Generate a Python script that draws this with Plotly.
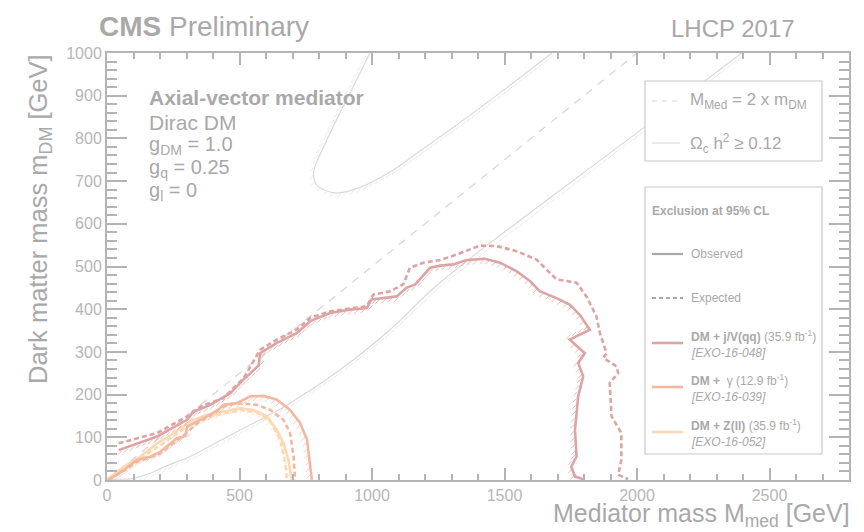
import numpy as np
import plotly.graph_objects as go

# ---- values (GeV) ----
diag_mmed = [0, 2000]
diag_mdm = [0, 1000]

relic_lo_mmed = [0, 100, 160, 220, 314, 405, 503, 691, 880, 1068, 1256, 2029, 2395]
relic_lo_mdm = [2, 4, 15, 32, 55, 85, 117, 180, 258, 352, 462, 827, 1000]

relic_hi_mmed = [992, 920, 853, 810, 785, 779, 790, 820, 867, 950, 1080, 1180, 1294, 1400, 1482, 1679]
relic_hi_mdm = [1000, 910, 827, 770, 735, 715, 692, 679, 672, 684, 726, 770, 820, 868, 906, 1000]

qq_obs_mmed = [44, 189, 302, 327, 390, 465, 515, 572, 578, 641, 716, 767, 842, 917, 980, 999,
               1093, 1130, 1163, 1219, 1257, 1307, 1357, 1426, 1483, 1545, 1596, 1633, 1696,
               1746, 1784, 1822, 1746, 1803, 1778, 1797, 1778, 1766, 1772, 1752, 1766, 1797]
qq_obs_mdm = [70, 102, 141, 160, 176, 203, 235, 268, 297, 321, 344, 372, 391, 399, 403, 423,
              430, 450, 458, 497, 502, 505, 515, 518, 509, 489, 466, 442, 426,
              411, 387, 352, 329, 297, 274, 243, 196, 117, 55, 31, 8, 2]

qq_exp_mmed = [44, 189, 302, 352, 439, 515, 578, 641, 716, 767, 842, 980, 1005, 1068, 1118,
               1143, 1194, 1257, 1319, 1407, 1470, 1545, 1621, 1696, 1772, 1809, 1847, 1860,
               1885, 1873, 1923, 1929, 1897, 1904, 1941, 1941, 1929, 1967]
qq_exp_mdm = [86, 110, 149, 172, 192, 238, 305, 329, 352, 380, 395, 407, 434, 442, 458,
              497, 509, 515, 528, 549, 548, 536, 516, 470, 462, 430, 383, 344,
              297, 286, 266, 250, 227, 149, 110, 47, 12, 2]

gam_obs_mmed = [5, 63, 113, 164, 201, 239, 264, 296, 302, 352, 390, 427, 439, 490, 540, 590,
                641, 691, 729, 755, 767, 773]
gam_obs_mdm = [0, 23, 47, 55, 66, 86, 98, 103, 125, 141, 153, 168, 176, 180, 196, 197,
               188, 164, 133, 94, 39, 0]

gam_exp_mmed = [5, 60, 110, 160, 200, 240, 300, 350, 400, 440, 490, 566, 616, 666, 691, 704, 710]
gam_exp_mdm = [0, 20, 42, 52, 62, 82, 110, 138, 155, 172, 180, 176, 164, 141, 110, 55, 0]

zll_obs_mmed = [0, 6, 63, 126, 189, 252, 314, 377, 439, 503, 553, 603, 641, 666, 685, 697]
zll_obs_mdm = [0, 4, 31, 55, 86, 110, 137, 153, 160, 168, 164, 149, 117, 86, 47, 0]

zll_exp_mmed = [0, 13, 88, 200, 300, 400, 503, 566, 616, 654, 673, 679]
zll_exp_mdm = [0, 4, 39, 80, 125, 150, 164, 158, 137, 94, 39, 0]

# ---- style ----
FONT = "Liberation Sans, Arial, Helvetica, sans-serif"
TXT = "#a9a9a9"
FRAME = "#b4b4b4"
C_QQ = "#dda4a4"
C_GAM = "#f2b9a2"
C_ZLL = "#fdd9b3"
C_RELIC = "#dadada"

X_MAX, Y_MAX = 2800, 1000

# plot area in pixels
L, R, T, B = 107, 849, 53, 480
SX = (R - L) / X_MAX
SY = (B - T) / Y_MAX


def px(x):
    return (x - L) / (R - L)


def py(y):
    return (B - y) / (B - T)


def hatches(xs, ys, step=6.5, size=5.5, off=3.0):
    # small "/" strokes on the excluded side of a contour, ROOT style
    X = np.array(xs, dtype=float) * SX
    Y = np.array(ys, dtype=float) * SY
    hx, hy = [], []
    carry = 0.0
    h = size / 2 * 0.7071
    for i in range(len(X) - 1):
        dx, dy = X[i + 1] - X[i], Y[i + 1] - Y[i]
        seglen = np.hypot(dx, dy)
        if seglen == 0:
            continue
        ux, uy = dx / seglen, dy / seglen
        nx, ny = uy, -ux
        d = carry
        while d < seglen:
            cx = X[i] + ux * d + nx * off
            cy = Y[i] + uy * d + ny * off
            hx += [(cx - h) / SX, (cx + h) / SX, None]
            hy += [(cy - h) / SY, (cy + h) / SY, None]
            d += step
        carry = d - seglen
    return hx, hy


fig = go.Figure()

fig.add_trace(go.Scatter(x=diag_mmed, y=diag_mdm, mode="lines",
                         line=dict(color="#d6d6d6", width=1.2, dash="8px,7px")))
for xs, ys in [(relic_lo_mmed, relic_lo_mdm), (relic_hi_mmed, relic_hi_mdm)]:
    hx, hy = hatches(xs, ys)
    fig.add_trace(go.Scatter(x=hx, y=hy, mode="lines", line=dict(color="#e2e2e2", width=0.8)))
    fig.add_trace(go.Scatter(x=xs, y=ys, mode="lines", line_shape="spline",
                             line=dict(color=C_RELIC, width=1.2)))

curves = [
    (zll_exp_mmed, zll_exp_mdm, C_ZLL, "5px,3px"),
    (zll_obs_mmed, zll_obs_mdm, C_ZLL, "solid"),
    (gam_exp_mmed, gam_exp_mdm, C_GAM, "5px,3px"),
    (gam_obs_mmed, gam_obs_mdm, C_GAM, "solid"),
    (qq_exp_mmed, qq_exp_mdm, C_QQ, "5px,3px"),
    (qq_obs_mmed, qq_obs_mdm, C_QQ, "solid"),
]
for xs, ys, col, dash in curves:
    if dash == "solid":
        hx, hy = hatches(xs, ys)
        fig.add_trace(go.Scatter(x=hx, y=hy, mode="lines", opacity=0.8,
                                 line=dict(color=col, width=0.9)))
    fig.add_trace(go.Scatter(x=xs, y=ys, mode="lines",
                             line=dict(color=col, width=2.6, dash=dash)))

shapes = []
annotations = []


def text(x, y, s, size, anchor="left", angle=0, yanchor="middle"):
    annotations.append(dict(x=px(x), y=py(y), xref="paper", yref="paper", text=s,
                            showarrow=False, xanchor=anchor, yanchor=yanchor,
                            textangle=angle, font=dict(family=FONT, size=size, color=TXT)))


def seg(x0, x1, y, col, width, dash="solid"):
    shapes.append(dict(type="line", xref="paper", yref="paper", x0=px(x0), x1=px(x1),
                       y0=py(y), y1=py(y), line=dict(color=col, width=width, dash=dash)))


# headers
text(97, 27, "<b>CMS</b> Preliminary", 28)
text(797, 29, "LHCP 2017", 24, anchor="right")

# axis titles
text(40, 52, "Dark matter mass m<sub>DM</sub> [GeV]", 25.5, anchor="center", angle=-90, yanchor="top")
text(852, 515, "Mediator mass M<sub>med</sub> [GeV]", 25, anchor="right")

# model block
text(147, 97, "<b>Axial-vector mediator</b>", 21)
text(147, 123, "Dirac DM", 21)
text(147, 145, "g<sub>DM</sub> = 1.0", 20)
text(147, 168, "g<sub>q</sub> = 0.25", 20)
text(147, 191, "g<sub>l</sub> = 0", 20)

# top legend box
shapes.append(dict(type="rect", xref="paper", yref="paper", x0=px(645), x1=px(822),
                   y0=py(161), y1=py(81), fillcolor="white", line=dict(color="#c8c8c8", width=1.2)))
seg(652, 680, 101, "#d6d6d6", 1.2, "5px,5px")
text(688, 101, "M<sub>Med</sub> = 2 x m<sub>DM</sub>", 17)
seg(652, 680, 143, C_RELIC, 1.2)
text(688, 143, "Ω<sub>c</sub> h<sup>2</sup> ≥ 0.12", 17)

# bottom legend box
shapes.append(dict(type="rect", xref="paper", yref="paper", x0=px(645), x1=px(822),
                   y0=py(454), y1=py(187), fillcolor="white", line=dict(color="#c8c8c8", width=1.2)))
text(650, 211, "<b>Exclusion at 95% CL</b>", 12)
seg(652, 683, 254, "#a8a8a8", 2.2)
text(689, 254, "Observed", 12)
seg(652, 683, 298, "#a8a8a8", 2.2, "4px,3px")
text(689, 298, "Expected", 12)

entries = [
    (343, C_QQ, "<b>DM + j/V(qq)</b> (35.9 fb<sup>-1</sup>)", "<i>[EXO-16-048]</i>"),
    (387, C_GAM, "<b>DM + </b> γ (12.9 fb<sup>-1</sup>)", "<i>[EXO-16-039]</i>"),
    (432, C_ZLL, "<b>DM + Z(ll)</b> (35.9 fb<sup>-1</sup>)", "<i>[EXO-16-052]</i>"),
]
for y, col, l1, l2 in entries:
    seg(652, 683, y, col, 2.6)
    text(689, y - 7, l1, 12)
    text(689, y + 10, l2, 12)

axis_common = dict(showgrid=False, zeroline=False, showline=True, linecolor=FRAME, linewidth=2,
                   mirror="ticks", ticks="inside", tickcolor=FRAME, tickwidth=1.5,
                   tickfont=dict(family=FONT, size=16, color="#b6b6b6"))

fig.update_layout(
    width=864, height=532,
    margin=dict(l=L, r=864 - R, t=T, b=532 - B),
    paper_bgcolor="white", plot_bgcolor="white",
    showlegend=False,
    shapes=shapes, annotations=annotations,
    xaxis=dict(range=[0, X_MAX], dtick=500, ticklen=12,
               minor=dict(dtick=100, ticklen=6, ticks="inside", tickcolor=FRAME, tickwidth=1.5),
               **axis_common),
    yaxis=dict(range=[0, Y_MAX], dtick=100, ticklen=20,
               minor=dict(dtick=20, ticklen=10, ticks="inside", tickcolor=FRAME, tickwidth=1.5),
               **axis_common),
)

# the page body has a default 8px margin; drop it so the figure sits at the window corner
fig.write_html("out.html", config={"displayModeBar": False},
               post_script="document.body.style.margin='0';")
